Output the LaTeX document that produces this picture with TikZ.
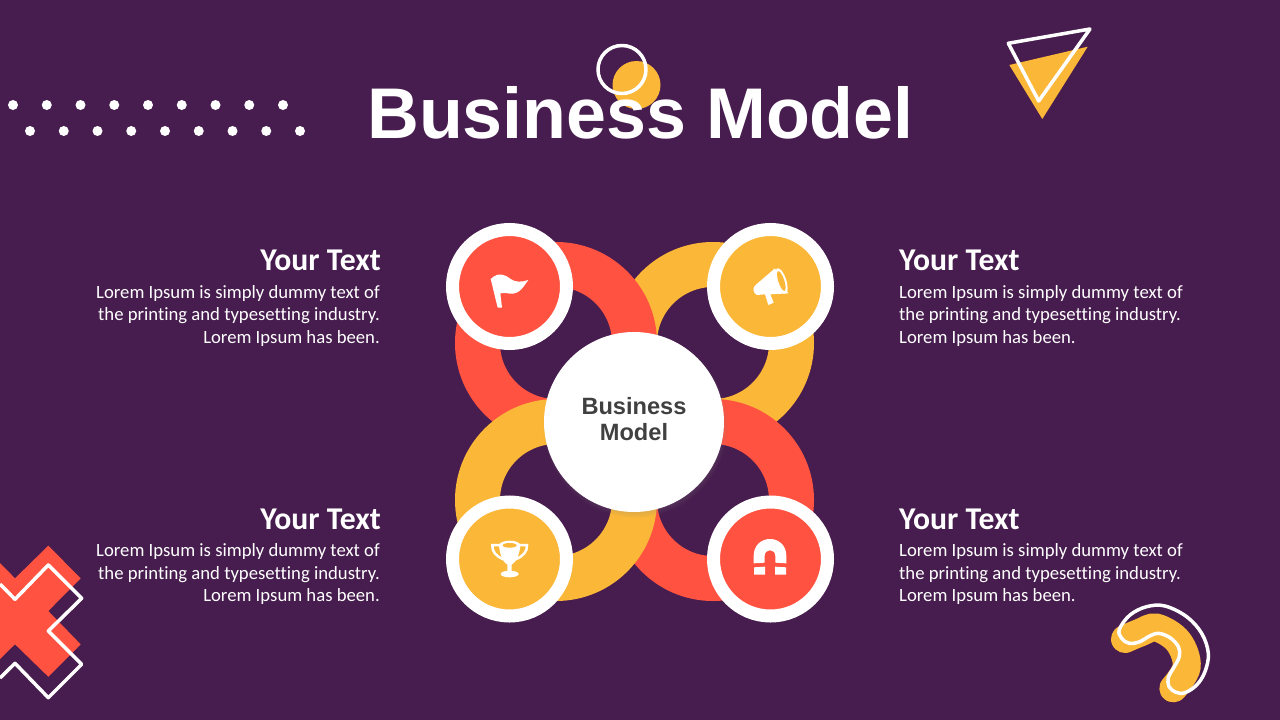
\documentclass[tikz,border=0pt]{standalone}
\usepackage{fontspec}
\setmainfont{Carlito}[Ligatures=NoCommon]
\newfontfamily\titlefont{Liberation Sans}
\usetikzlibrary{shadows}
\definecolor{bgPurple}{HTML}{471C4E}
\definecolor{cRed}{HTML}{FF5240}
\definecolor{cYellow}{HTML}{FBB737}
\definecolor{cGrey}{HTML}{404040}
\tikzset{
  ring/.style={circle, draw=#1, line width=45pt, minimum size=157pt, inner sep=0pt},
  badge/.style={circle, fill=#1, draw=white, line width=13pt, minimum size=114pt, inner sep=0pt,
    circular drop shadow={shadow xshift=1pt, shadow yshift=-3pt, shadow scale=1.04, opacity=0.45}},
  hub/.style={circle, fill=white, minimum size=180pt, inner sep=0pt,
    circular drop shadow={shadow xshift=1pt, shadow yshift=-3pt, shadow scale=1.03, opacity=0.45}},
  heading/.style={text=white, inner sep=0pt, font=\fontsize{31.7}{33}\selectfont\bfseries},
  body/.style={text=white, inner sep=0pt, font=\fontsize{18.7}{22.5}\selectfont},
  outline/.style={draw=white, line width=3.5pt, line join=round}
}
\newcommand{\loremR}{Lorem Ipsum is simply dummy text of\\the printing and typesetting industry.\\Lorem Ipsum has been.}
\begin{document}
\begin{tikzpicture}[x=1pt,y=-1pt]
  \fill[bgPurple] (0,0) rectangle (1280,720);
  \useasboundingbox (0,0) rectangle (1280,720);
  % Dots
  \foreach \n in {0,...,8} {
    \fill[white] (13+33.75*\n,105) circle (5);
    \fill[white] (30+33.75*\n,131) circle (5);
  }
  % Circles behind the title
  \fill[cYellow] (636.5,85) circle (24);
  \draw[outline] (622,69.5) circle (24);
  % Triangles
  \fill[cYellow] (1009.3,65) -- (1087.7,46.7) -- (1042.3,119) -- cycle;
  \draw[outline] (1008.3,43.3) -- (1090,29) -- (1038.7,101) -- cycle;
  % Cross
  \fill[cRed] (0,563) -- (15,578.3) -- (48.3,545.7) -- (80.7,578.3) -- (48.3,611) -- (80.7,644.3)
    -- (48.3,676.7) -- (15,644.3) -- (0,659) -- cycle;
  \draw[outline] (0,584) -- (15,599.3) -- (48.3,565) -- (81.7,598.3) -- (48.3,631) -- (81.7,664.3)
    -- (48.3,697.7) -- (15,663.3) -- (0,678);
  % Hook
  \begin{scope}[shift={(1090,590)},xscale=1/3,yscale=1/3]
    \draw[cYellow, line width=28pt, line cap=round] plot[smooth, tension=0.6] coordinates
      {(105,147) (150,128) (200,113) (265,155) (290,230) (250,295)};
    \draw[outline] plot[smooth cycle, tension=0.6] coordinates
      {(88,118) (95,145) (118,160) (150,155) (175,140) (205,130) (240,143) (265,170) (268,200)
       (250,235) (235,262) (237,290) (258,307) (285,308) (320,285) (345,245) (355,190) (335,130)
       (290,80) (225,48) (170,50) (120,75)};
  \end{scope}
  % Title
  \node[text=white, inner sep=0pt, anchor=base, font=\titlefont\fontsize{71.8}{80}\selectfont\bfseries]
    (title) at (640.5,138.5) {Business Model};
  % Rings
  \node[ring=cYellow] (ringTR) at (713,343) {};
  \node[ring=cRed] (ringTL) at (556,343) {};
  \node[ring=cRed] (ringBR) at (713,500) {};
  \node[ring=cYellow] (ringBL) at (556,500) {};
  % Badges
  \node[badge=cRed] (badgeTL) at (509.5,286.5) {};
  \node[badge=cYellow] (badgeTR) at (770.5,286.5) {};
  \node[badge=cYellow] (badgeBL) at (509.5,559) {};
  \node[badge=cRed] (badgeBR) at (770.5,559) {};
  \node[hub] (hub) at (634,422) {};
  \node[text=cGrey, align=center, inner sep=0pt, font=\titlefont\fontsize{23.6}{26}\selectfont\bfseries]
    (hubText) at (634,419) {Business\\Model};
  % Flag
  \begin{scope}[shift={(470,255)},xscale=1/3,yscale=1/3]
    \fill[white] (62,72) .. controls (85,50) and (105,58) .. (122,72)
      .. controls (135,82) and (155,82) .. (175,75)
      .. controls (162,92) and (150,118) .. (122,116)
      .. controls (110,115) and (100,112) .. (91,115) -- (96,158) -- (83,158) -- cycle;
  \end{scope}
  % Megaphone
  \begin{scope}[shift={(735,255)},xscale=1/3,yscale=1/3]
    \fill[white] (120,40) -- (64,88) .. controls (52,96) and (52,114) .. (66,120) -- (90,118)
      -- (100,150) -- (116,143) -- (106,118) -- (160,115) -- cycle;
    \fill[white] (139,78) ellipse [x radius=15, y radius=40, rotate=18];
    \fill[cYellow] (139,78) ellipse [x radius=9, y radius=31, rotate=18];
  \end{scope}
  % Trophy
  \begin{scope}[shift={(475,530)},xscale=1/3,yscale=1/3]
    \draw[white, line width=2.5pt] (75,45) -- (52,45) .. controls (50,65) and (65,80) .. (85,88);
    \draw[white, line width=2.5pt] (133,45) -- (156,45) .. controls (158,65) and (142,80) .. (122,88);
    \fill[white] (72,46) .. controls (74,75) and (85,98) .. (97,104) -- (97,125) -- (110,125) -- (110,104)
      .. controls (122,98) and (134,75) .. (136,46) -- cycle;
    \fill[white] (104,46) ellipse [x radius=32, y radius=14];
    \fill[cYellow] (104,46) ellipse [x radius=21, y radius=7];
    \fill[white] (104,132) ellipse [x radius=27, y radius=10];
  \end{scope}
  % Magnet
  \begin{scope}[shift={(740,530)},xscale=1/3,yscale=1/3]
    \fill[white] (41,100) -- (41,78) .. controls (41,10) and (139,10) .. (139,78) -- (139,100)
      -- (106,98) -- (106,78) .. controls (106,55) and (74,55) .. (74,78) -- (74,98) -- cycle;
    \fill[white] (42,112) -- (75,110) -- (75,134) -- (42,134) -- cycle;
    \fill[white] (105,110) -- (138,112) -- (138,134) -- (105,134) -- cycle;
  \end{scope}
  % Left texts
  \foreach \name/\y in {TL/0,BL/258.5} {
    \node[heading, anchor=base east] (head\name) at (381,270.5+\y) {Your Text};
    \node[body, anchor=north east, align=right] (text\name) at (380,285+\y) {\loremR};
  }
  % Right texts
  \foreach \name/\y in {TR/0,BR/258.5} {
    \node[heading, anchor=base west] (head\name) at (899,270.5+\y) {Your Text};
    \node[body, anchor=north west, align=left] (text\name) at (899,285+\y) {\loremR};
  }
\end{tikzpicture}
\end{document}
